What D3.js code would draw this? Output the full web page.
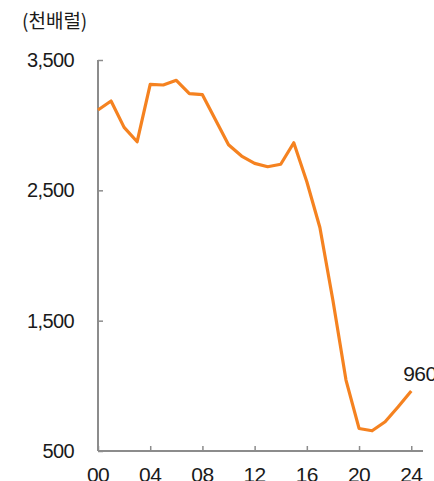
<!DOCTYPE html>
<html><head><meta charset="utf-8">
<script src="https://cdn.jsdelivr.net/npm/d3@7"></script>
<style>
html,body{margin:0;padding:0;background:#fff;}
svg{display:block;}
text{font-family:"Liberation Sans",Arial,sans-serif;fill:#1a1a1a;}
</style></head>
<body>
<svg id="c" width="434" height="481"></svg>
<script>
const years = [0,1,2,3,4,5,6,7,8,9,10,11,12,13,14,15,16,17,18,19,20,21,22,23,24];
const values = [3116,3185,2983,2873,3313,3308,3344,3242,3234,3042,2850,2763,2707,2681,2700,2865,2566,2215,1655,1044,673,655,724,839,960];
const yTicks = [500,1500,2500,3500];
const xTicks = [0,4,8,12,16,20,24];
const unitLabel = "(천배럴)";
const lastLabel = "960";

const svg = d3.select("#c");
const x = d3.scaleLinear().domain([0,24.9]).range([98,423]);
const y = d3.scaleLinear().domain([500,3500]).range([451,60]);

const axisColor = "#8c8c8c";

// y axis
const ya = svg.append("g").attr("transform","translate(98,0)")
  .call(d3.axisRight(y).tickValues(yTicks).tickSize(5).tickFormat(""));
ya.select(".domain").attr("stroke",axisColor).attr("stroke-width",2).attr("d","M0,60V451");
ya.selectAll(".tick line").attr("stroke",axisColor).attr("stroke-width",1.5);

svg.selectAll(".ylab").data(yTicks).enter().append("text")
  .attr("x",74).attr("y",d=>y(d)+7)
  .attr("text-anchor","end").attr("font-size",20).attr("letter-spacing","-0.6")
  .text(d=>d3.format(",")(d));

// x axis
const xa = svg.append("g").attr("transform","translate(0,451)")
  .call(d3.axisTop(x).tickValues(xTicks).tickSize(5).tickFormat(""));
xa.select(".domain").attr("stroke",axisColor).attr("stroke-width",2).attr("d","M98,0H423");
xa.selectAll(".tick line").attr("stroke",axisColor).attr("stroke-width",1.5);

svg.selectAll(".xlab").data(xTicks).enter().append("text")
  .attr("x",d=>x(d)).attr("y",482)
  .attr("text-anchor","middle").attr("font-size",21).attr("letter-spacing","-0.6")
  .text(d=>d3.format("02d")(d));

// unit label
svg.append("text").attr("x",22).attr("y",28)
  .attr("font-size",19)
  .style("font-family","'Noto Sans CJK KR','Liberation Sans',sans-serif")
  .text(unitLabel);

// line
const line = d3.line().x((d,i)=>x(years[i])).y(d=>y(d));
svg.append("path").datum(values).attr("d",line)
  .attr("fill","none").attr("stroke","#F58220").attr("stroke-width",3.2)
  .attr("stroke-linejoin","round");

svg.append("text").attr("x",x(years[years.length-1])-8).attr("y",y(values[values.length-1])-10)
  .attr("font-size",21).attr("letter-spacing","-0.6").text(lastLabel);
</script>
</body></html>
